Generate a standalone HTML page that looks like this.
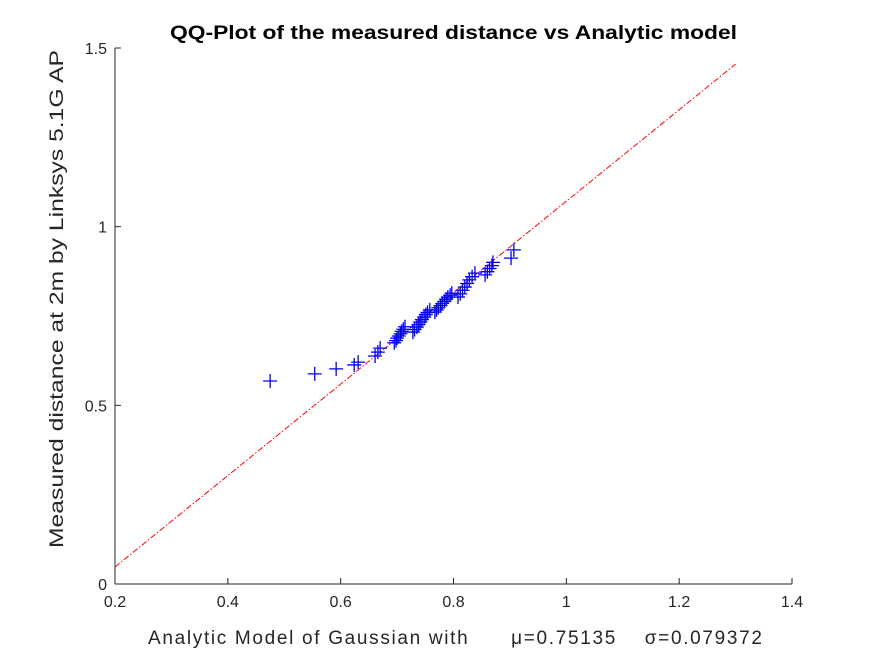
<!DOCTYPE html>
<html><head><meta charset="utf-8"><style>
body{margin:0;background:#fff}
svg{display:block;font-family:"Liberation Sans",sans-serif}
</style></head><body>
<svg id="chart" width="875" height="656" viewBox="0 0 875 656">
<rect width="875" height="656" fill="#fff"/>
<text x="170" y="39" textLength="567" lengthAdjust="spacingAndGlyphs" font-size="19" font-weight="bold" fill="#000">QQ-Plot of the measured distance vs Analytic model</text>
<g id="axes"></g>
<g id="marks"></g>
<text x="148" y="644" textLength="614" lengthAdjust="spacing" font-size="19" fill="#262626" xml:space="preserve">Analytic Model of Gaussian with      μ=0.75135    σ=0.079372</text>
<text transform="translate(63,548) rotate(-90)" textLength="498" lengthAdjust="spacingAndGlyphs" font-size="19" fill="#262626">Measured distance at 2m by Linksys 5.1G AP</text>
</svg>
<script>
const xVals=[0.475,0.554,0.592,0.624,0.631,0.661,0.666,0.670,
0.695,0.698,0.700,0.703,0.706,0.708,0.711,0.714,
0.728,0.731,0.735,0.738,0.741,0.744,0.748,0.751,0.754,0.758,
0.767,0.770,0.773,0.777,0.780,0.784,0.787,0.790,0.794,0.797,
0.808,0.812,0.816,0.820,0.824,0.828,0.833,0.838,
0.856,0.860,0.864,0.868,0.870,0.902,0.907];
const yVals=[0.568,0.588,0.602,0.613,0.621,0.638,0.649,0.660,
0.675,0.681,0.688,0.694,0.700,0.707,0.713,0.720,
0.705,0.712,0.719,0.726,0.733,0.740,0.747,0.754,0.760,0.767,
0.761,0.767,0.773,0.779,0.785,0.791,0.797,0.803,0.808,0.814,
0.803,0.812,0.822,0.831,0.841,0.851,0.860,0.870,
0.865,0.874,0.883,0.891,0.900,0.912,0.935];
const refLineX=[0.2,1.3];
const refLineY=[0.0476,1.455];
const xTicks=[0.2,0.4,0.6,0.8,1,1.2,1.4];
const yTicks=[0,0.5,1,1.5];
const X0=115,X1=792,Y0=584,Y1=48;
const sx=v=>X0+(v-0.2)/1.2*(X1-X0);
const sy=v=>Y0-v/1.5*(Y0-Y1);
const NS='http://www.w3.org/2000/svg';
function mk(tag,attrs,parent){const e=document.createElementNS(NS,tag);for(const k in attrs)e.setAttribute(k,attrs[k]);parent.appendChild(e);return e;}
const axes=document.getElementById('axes'),marks=document.getElementById('marks');
let xa=mk('line',{x1:X0,y1:Y0,x2:X1,y2:Y0,stroke:'#262626','stroke-width':1},axes);


let ya=mk('line',{x1:X0,y1:Y0,x2:X0,y2:Y1,stroke:'#262626','stroke-width':1},axes);


xTicks.forEach(t=>{const x=sx(t);
mk('line',{x1:x,y1:Y0,x2:x,y2:Y0-6,stroke:'#262626'},axes);
const tx=mk('text',{x:x,y:Y0+23,'text-anchor':'middle','font-size':16,fill:'#262626'},axes);
tx.textContent=String(t);

});
yTicks.forEach(t=>{const y=sy(t);
mk('line',{x1:X0,y1:y,x2:X0+6,y2:y,stroke:'#262626'},axes);
const tx=mk('text',{x:X0-8,y:y+6,'text-anchor':'end','font-size':16,fill:'#262626'},axes);
tx.textContent=String(t);

});
const rl=mk('line',{x1:sx(refLineX[0]),y1:sy(refLineY[0]),x2:sx(refLineX[1]),y2:sy(refLineY[1]),stroke:'#ff0000','stroke-width':1,'stroke-dasharray':'6 2 1.5 2'},marks);


xVals.forEach((v,i)=>{const x=sx(v),y=sy(yVals[i]);
const p=mk('path',{d:`M${x-7},${y}H${x+7}M${x},${y-7}V${y+7}`,stroke:'#0000ff','stroke-width':1.3,fill:'none'},marks);

});
</script>
</body></html>
